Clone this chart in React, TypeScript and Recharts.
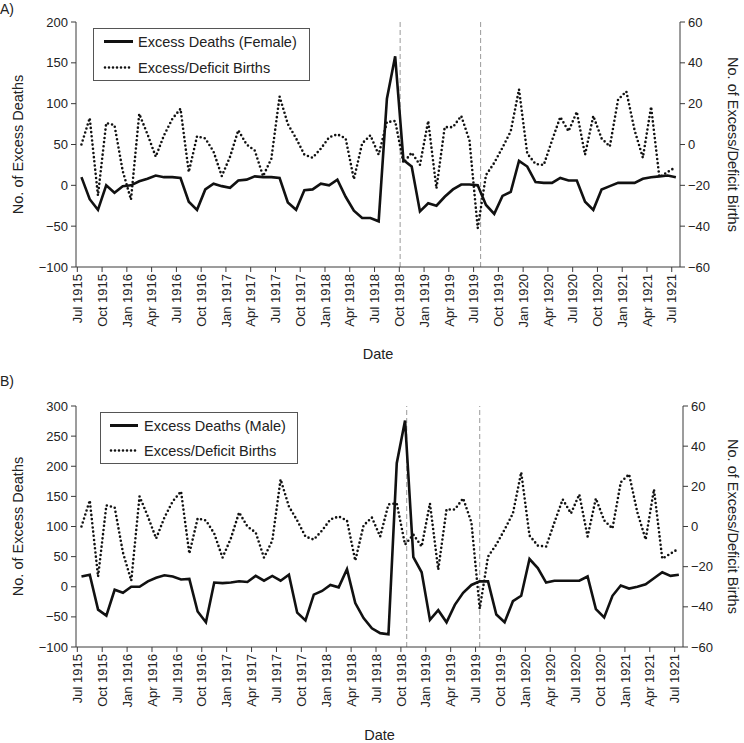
import React from 'react';
import { LineChart, Line, XAxis, YAxis, ReferenceLine, Legend } from 'recharts';

// Month tick labels (every 3 months from Jul 1915); month index 0 = Jul 1915
const tickLabels = [
  'Jul 1915', 'Oct 1915', 'Jan 1916', 'Apr 1916', 'Jul 1916', 'Oct 1916', 'Jan 1917', 'Apr 1917',
  'Jul 1917', 'Oct 1917', 'Jan 1918', 'Apr 1918', 'Jul 1918', 'Oct 1918', 'Jan 1919', 'Apr 1919',
  'Jul 1919', 'Oct 1919', 'Jan 1920', 'Apr 1920', 'Jul 1920', 'Oct 1920', 'Jan 1921', 'Apr 1921', 'Jul 1921',
];
const monthTicks = tickLabels.map((_, k) => k * 3);

// Monthly series, Jul 1915 .. Jul 1921 (73 months)
const femaleDeaths = [
  10, -17, -30, 0, -9, -1, 0, 5, 8, 12, 10, 10, 9, -20, -30, -5, 2, -1, -3, 6, 7, 11, 10, 10, 9,
  -21, -30, -6, -5, 2, 0, 7, -14, -31, -40, -40, -44, 106, 158, 31, 23, -32, -22, -25, -14, -5, 1, 1,
  0, -24, -35, -13, -8, 30, 23, 4, 3, 3, 9, 6, 6, -20, -30, -5, -1, 3, 3, 3, 8, 10, 11, 12, 10,
];
const maleDeaths = [
  17, 20, -38, -48, -5, -10, 0, 0, 9, 15, 19, 17, 12, 13, -41, -59, 7, 6, 7, 9, 8, 18, 10, 18, 10,
  20, -43, -56, -13, -7, 3, -1, 29, -27, -52, -69, -77, -79, 205, 276, 49, 24, -55, -39, -59, -30, -10, 3,
  9, 9, -46, -59, -24, -15, 46, 31, 7, 10, 10, 10, 10, 17, -37, -51, -15, 2, -3, 0, 4, 14, 24, 18, 20,
];
const births = [
  0, 13, -25, 10.5, 9.5, -13, -27, 15, 5, -6, 4.5, 12.5, 17.5, -13.5, 4, 3, -3.5, -15.5, -6, 7, 0, -3, -15.5, -7, 23.5,
  10, 3, -5, -6.5, -2, 3.5, 5, 3, -17, 0.5, 4.5, -5, 11, 11.5, -9, -4, -10, 11.5, -21.5, 8.5, 8.5, 14, 2,
  -41, -15, -9, -1.5, 6.5, 27, -4.5, -9.5, -10, 2, 13.5, 6.5, 16, -5, 14, 3, -1, 22, 26, 7, -6.5, 18.5, -16, -13.5, -11,
];

// Dashed event markers (month index from Jul 1915)
const femaleEventMonths = [39.1, 48.85];
const maleEventMonths = [39.7, 48.5];

const leftTicksA = [-100, -50, 0, 50, 100, 150, 200];
const leftTicksB = [-100, -50, 0, 50, 100, 150, 200, 250, 300];
const rightTicks = [-60, -40, -20, 0, 20, 40, 60];

const FONT = '"Liberation Sans", Arial, Helvetica, sans-serif';
const TXT = '#222';
const AX = '#3a3a3a';

const buildRows = (deaths: number[]) =>
  deaths.map((d, i) => ({ t: i + 0.5, deaths: d, births: births[i] }));

const fmt = (v: number) => (v < 0 ? '\u2212' + Math.abs(v) : String(v));

const XTick = (props: any) => {
  const { x, y, payload } = props;
  const label = tickLabels[Math.round(payload.value / 3)];
  return (
    <g transform={`translate(${x},${y})`}>
      <text x={0} y={0} dy="0.36em" textAnchor="end" transform="rotate(-90)" fontSize={13} fill={TXT} fontFamily={FONT}>
        {label}
      </text>
    </g>
  );
};

const makeYLabel = (text: string, x: number, rot: number, fallbackCy: number) => (props: any) => {
  const vb = props && props.viewBox;
  const cy = vb && typeof vb.y === 'number' ? vb.y + vb.height / 2 : fallbackCy;
  return (
    <text x={x} y={cy} transform={`rotate(${rot} ${x} ${cy})`} textAnchor="middle" dominantBaseline="central"
      fontSize={14.5} fill={TXT} fontFamily={FONT}>
      {text}
    </text>
  );
};

const makeXLabel = (y: number) => (props: any) => {
  const vb = props && props.viewBox;
  const cx = vb && typeof vb.x === 'number' ? vb.x + vb.width / 2 : 378;
  return (
    <text x={cx} y={y} textAnchor="middle" dominantBaseline="central" fontSize={14.5} fill={TXT} fontFamily={FONT}>
      Date
    </text>
  );
};

type LegendCfg = { w: number; h: number; sx1: number; sx2: number; tx: number; r1: number; r2: number; first: string };

const LegendBox = ({ cfg }: { cfg: LegendCfg }) => (
  <svg width={cfg.w} height={cfg.h} style={{ display: 'block' }}>
    <rect x={0.5} y={0.5} width={cfg.w - 1} height={cfg.h - 1} fill="#fff" stroke="#555" strokeWidth={1} />
    <line x1={cfg.sx1} x2={cfg.sx2} y1={cfg.r1} y2={cfg.r1} stroke="#111" strokeWidth={3} />
    <text x={cfg.tx} y={cfg.r1} dominantBaseline="central" fontSize={14.5} fill={TXT} fontFamily={FONT}>{cfg.first}</text>
    <line x1={cfg.sx1 + 1} x2={cfg.sx2} y1={cfg.r2} y2={cfg.r2} stroke="#111" strokeWidth={2.6}
      strokeDasharray="0 4" strokeLinecap="round" />
    <text x={cfg.tx} y={cfg.r2} dominantBaseline="central" fontSize={14.5} fill={TXT} fontFamily={FONT}>Excess/Deficit Births</text>
  </svg>
);

type PanelProps = {
  rows: any[];
  height: number;
  top: number;
  xAxisHeight: number;
  rightWidth: number;
  leftDomain: [number, number];
  leftTicks: number[];
  events: number[];
  legendPos: { left: number; top: number };
  legendCfg: LegendCfg;
  dateY: number;
};

const Panel = (p: PanelProps) => (
  <LineChart width={744} height={p.height} data={p.rows} margin={{ top: p.top, right: 0, bottom: 0, left: 0 }}>
    <XAxis dataKey="t" type="number" domain={[-0.16, 73]} ticks={monthTicks} allowDataOverflow
      interval={0} tick={<XTick />} tickSize={5} tickMargin={2} height={p.xAxisHeight}
      stroke={AX} tickLine={{ stroke: AX }} axisLine={{ stroke: AX }} label={makeXLabel(p.dateY)} />
    <YAxis yAxisId="left" domain={p.leftDomain} ticks={p.leftTicks} allowDataOverflow width={76}
      tickSize={5} tickMargin={3} tickFormatter={fmt} stroke={AX}
      tick={{ fontSize: 13, fill: TXT, fontFamily: FONT }}
      label={makeYLabel('No. of Excess Deaths', 18, -90, 0)} />
    <YAxis yAxisId="right" orientation="right" domain={[-60, 60]} ticks={rightTicks} allowDataOverflow
      width={p.rightWidth} tickSize={5} tickMargin={3} tickFormatter={fmt} stroke={AX}
      tick={{ fontSize: 13, fill: TXT, fontFamily: FONT }}
      label={makeYLabel('No. of Excess/Deficit Births', 733, 90, 0)} />
    {p.events.map((m, k) => (
      <ReferenceLine key={k} x={m} yAxisId="left" stroke="#9a9a9a" strokeWidth={1} strokeDasharray="5 3" />
    ))}
    <Line yAxisId="right" dataKey="births" type="linear" stroke="#111" strokeWidth={2.6}
      strokeDasharray="0 4.2" strokeLinecap="round" dot={false} activeDot={false} isAnimationActive={false} />
    <Line yAxisId="left" dataKey="deaths" type="linear" stroke="#111" strokeWidth={2.6}
      dot={false} activeDot={false} isAnimationActive={false} />
    <Legend layout="vertical" align="center" verticalAlign="middle"
      wrapperStyle={{ position: 'absolute', left: p.legendPos.left, top: p.legendPos.top, width: p.legendCfg.w, height: p.legendCfg.h }}
      content={() => <LegendBox cfg={p.legendCfg} />} />
  </LineChart>
);

export default function App() {
  const rowsA = buildRows(femaleDeaths);
  const rowsB = buildRows(maleDeaths);
  return (
    <div style={{ position: 'absolute', left: 0, top: 0, width: 744, height: 743, background: '#fff', fontFamily: FONT }}>
      <div style={{ position: 'absolute', left: 0, top: 0 }}>
        <Panel rows={rowsA} height={370} top={22} xAxisHeight={103} rightWidth={64}
          leftDomain={[-100, 200]} leftTicks={leftTicksA} events={femaleEventMonths}
          legendPos={{ left: 93, top: 28 }}
          legendCfg={{ w: 217, h: 53, sx1: 11, sx2: 40, tx: 45, r1: 13.5, r2: 39.5, first: 'Excess Deaths (Female)' }}
          dateY={354} />
      </div>
      <div style={{ position: 'absolute', left: 0, top: 370 }}>
        <Panel rows={rowsB} height={373} top={36} xAxisHeight={96} rightWidth={61}
          leftDomain={[-100, 300]} leftTicks={leftTicksB} events={maleEventMonths}
          legendPos={{ left: 100, top: 42 }}
          legendCfg={{ w: 198, h: 52, sx1: 10, sx2: 38, tx: 44, r1: 13.5, r2: 38.5, first: 'Excess Deaths (Male)' }}
          dateY={365} />
      </div>
      <div style={{ position: 'absolute', left: 0, top: 1, fontSize: 14, color: TXT, lineHeight: '16px' }}>A)</div>
      <div style={{ position: 'absolute', left: 0, top: 373, fontSize: 14, color: TXT, lineHeight: '16px' }}>B)</div>
    </div>
  );
}
